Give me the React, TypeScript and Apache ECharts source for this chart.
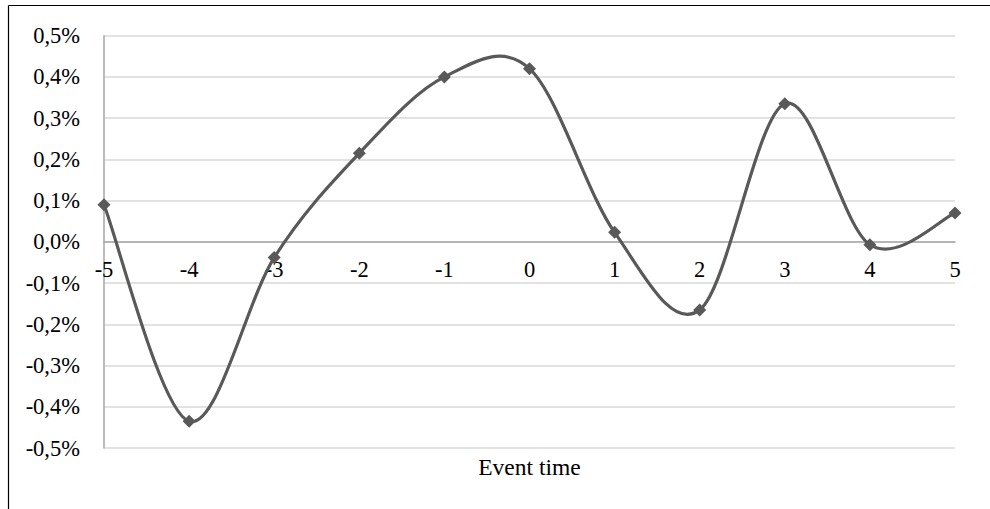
import React, { useEffect, useRef } from "react";
import * as echarts from "echarts";

const categories = ["-5", "-4", "-3", "-2", "-1", "0", "1", "2", "3", "4", "5"];
const values = [0.09, -0.435, -0.038, 0.215, 0.4, 0.42, 0.023, -0.165, 0.335, -0.007, 0.07];
const axisTitle = "Event time";

const FONT = '"Liberation Serif", "Times New Roman", serif';
const GRID_TOP = 35.7;
const GRID_BOTTOM = 61;
const CHART_H = 509;

export default function App() {
  const ref = useRef<HTMLDivElement>(null);
  useEffect(() => {
    const chart = echarts.init(ref.current!, null, { renderer: "svg" });
    const gridHeight = CHART_H - GRID_TOP - GRID_BOTTOM;
    chart.setOption({
      animation: false,
      backgroundColor: "#ffffff",
      grid: { left: 104, right: 35, top: GRID_TOP, bottom: GRID_BOTTOM, containLabel: false },
      xAxis: {
        type: "category",
        data: categories,
        boundaryGap: false,
        position: "bottom",
        offset: -gridHeight / 2,
        axisLine: { show: true, onZero: false, lineStyle: { color: "#a6a6a6", width: 1.5 } },
        axisTick: { show: false },
        axisLabel: { color: "#000", fontFamily: FONT, fontSize: 22.5, margin: 16 },
        splitLine: { show: false },
      },
      yAxis: {
        type: "value",
        min: -0.5,
        max: 0.5,
        interval: 0.1,
        axisLine: { show: true, onZero: false, lineStyle: { color: "#a6a6a6", width: 1.5 } },
        axisTick: { show: false },
        axisLabel: {
          color: "#000",
          fontFamily: FONT,
          fontSize: 22.5,
          margin: 24,
          formatter: (v: number) => (Math.round(v * 10) / 10).toFixed(1).replace(".", ",") + "%",
        },
        splitLine: { show: true, lineStyle: { color: "#d9d9d9", width: 1.5 } },
      },
      series: [
        {
          type: "custom",
          z: 2,
          silent: true,
          data: [[0, 0]],
          renderItem: (params: any, api: any) => {
            const pts = values.map((v, i) => api.coord([i, v]));
            const n = pts.length;
            const P = (i: number) => pts[Math.max(0, Math.min(n - 1, i))];
            let d = `M${pts[0][0]},${pts[0][1]}`;
            for (let i = 0; i < n - 1; i++) {
              const p0 = P(i - 1), p1 = P(i), p2 = P(i + 1), p3 = P(i + 2);
              const c1x = p1[0] + (p2[0] - p0[0]) / 6;
              const c1y = p1[1] + (p2[1] - p0[1]) / 6;
              const c2x = p2[0] - (p3[0] - p1[0]) / 6;
              const c2y = p2[1] - (p3[1] - p1[1]) / 6;
              d += ` C${c1x},${c1y} ${c2x},${c2y} ${p2[0]},${p2[1]}`;
            }
            return {
              type: "path",
              shape: { pathData: d },
              style: { stroke: "#595959", lineWidth: 3.2, fill: "none" },
            };
          },
        },
        {
          type: "line",
          z: 3,
          data: values,
          symbol: "diamond",
          symbolSize: 13,
          showAllSymbol: true,
          lineStyle: { opacity: 0, width: 0 },
          itemStyle: { color: "#595959" },
        },
      ],
      graphic: [
        { type: "line", shape: { x1: 8.5, y1: 5.5, x2: 990, y2: 5.5 }, style: { stroke: "#000", lineWidth: 1.2 } },
        { type: "line", shape: { x1: 8.5, y1: 5.5, x2: 8.5, y2: 509 }, style: { stroke: "#000", lineWidth: 1.2 } },
        {
          type: "text",
          x: 529.5,
          y: 467,
          style: {
            text: axisTitle,
            fontFamily: FONT,
            fontSize: 23.5,
            fill: "#000",
            align: "center",
            verticalAlign: "middle",
          },
        },
      ],
    });
    return () => chart.dispose();
  }, []);
  return (
    <div
      ref={ref}
      style={{ position: "absolute", left: 0, top: 0, width: 990, height: 509 }}
    />
  );
}
